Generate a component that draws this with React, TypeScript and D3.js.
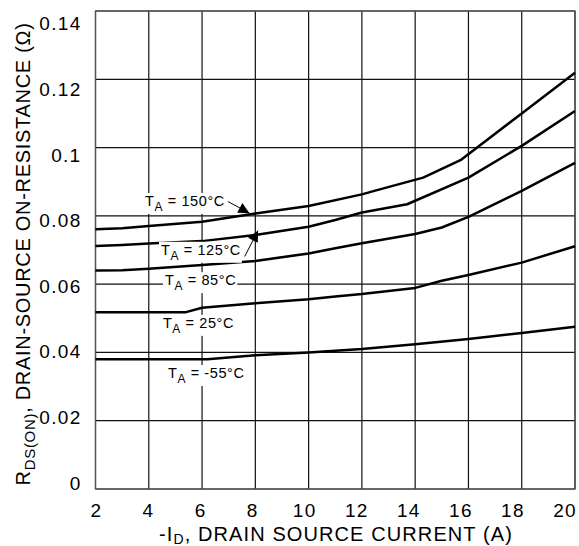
import { useEffect, useRef } from "react";
import * as d3 from "d3";

// -ID (A) vs RDS(ON) (ohm), one array per ambient temperature
const curve150 = [[2, 0.0761], [3, 0.0764], [4, 0.077], [6, 0.0783], [8, 0.0807], [10, 0.0829], [12, 0.0863], [12.5, 0.0874], [14.3, 0.0912], [15.7, 0.0963], [18, 0.110], [20, 0.1219]];
const curve125 = [[2, 0.0712], [3, 0.0715], [4, 0.0719], [6, 0.0726], [8, 0.0744], [10, 0.0768], [11, 0.0788], [12, 0.081], [13.7, 0.0834], [16, 0.0912], [18, 0.1005], [20, 0.1107]];
const curve85 = [[2, 0.064], [3, 0.0641], [4, 0.0645], [6, 0.0656], [8, 0.0668], [10, 0.069], [11, 0.0705], [12, 0.072], [14, 0.0747], [15, 0.0766], [16, 0.0797], [18, 0.0873], [20, 0.0955]];
const curve25 = [[2, 0.0518], [5.4, 0.0518], [6, 0.0531], [8, 0.0544], [10, 0.0556], [11, 0.0564], [12, 0.0571], [14, 0.0589], [15, 0.061], [16, 0.0627], [18, 0.0663], [20, 0.0711]];
const curveM55 = [[2, 0.038], [6.2, 0.038], [8, 0.0392], [10, 0.04], [12, 0.041], [14, 0.0424], [16, 0.0439], [18, 0.0457], [20, 0.0475]];

const temps = ["150°C", "125°C", "85°C", "25°C", "-55°C"];
const xTicks = [2, 4, 6, 8, 10, 12, 14, 16, 18, 20];
const yTicks = [0, 0.02, 0.04, 0.06, 0.08, 0.1, 0.12, 0.14];
const yTickLabels = ["0", "0.02", "0.04", "0.06", "0.08", "0.1", "0.12", "0.14"];

const FONT = "'Liberation Sans', Arial, Helvetica, sans-serif";

export default function App() {
  const svgRef = useRef<SVGSVGElement>(null);

  useEffect(() => {
    const width = 579;
    const height = 546;
    const x = d3.scaleLinear().domain([2, 20]).range([95.5, 575]);
    const y = d3.scaleLinear().domain([0, 0.14]).range([489, 11]);
    // tick labels in the original sit on a slightly tighter spacing than the grid
    const xLab = d3.scaleLinear().domain([2, 20]).range([96.5, 565]);
    const yLab = d3.scaleLinear().domain([0, 0.14]).range([483, 23.7]);

    const svg = d3.select(svgRef.current);
    svg.selectAll("*").remove();
    svg.attr("width", width).attr("height", height);
    svg.append("rect").attr("width", width).attr("height", height).attr("fill", "#fff");

    // grid
    const grid = svg.append("g").attr("stroke", "#111").attr("stroke-width", 1.2);
    grid.selectAll("line.v").data(xTicks).join("line")
      .attr("x1", (d) => x(d)).attr("x2", (d) => x(d))
      .attr("y1", y(0)).attr("y2", y(0.14));
    grid.selectAll("line.h").data(yTicks).join("line")
      .attr("x1", x(2)).attr("x2", x(20))
      .attr("y1", (d) => y(d)).attr("y2", (d) => y(d));
    svg.append("rect")
      .attr("x", x(2)).attr("y", y(0.14))
      .attr("width", x(20) - x(2)).attr("height", y(0) - y(0.14))
      .attr("fill", "none").attr("stroke", "#555").attr("stroke-width", 1.3);

    // curves
    const line = d3.line<number[]>().x((d) => x(d[0])).y((d) => y(d[1]));
    [curve150, curve125, curve85, curve25, curveM55].forEach((c) => {
      svg.append("path").datum(c)
        .attr("d", line)
        .attr("fill", "none").attr("stroke", "#000")
        .attr("stroke-width", 2.5).attr("stroke-linejoin", "round");
    });

    // curve labels (data coords for the text baseline start)
    const labelPos = [[3.86, 0.0829], [4.46, 0.0686], [4.61, 0.0597], [4.53, 0.0472], [4.72, 0.0325]];
    temps.forEach((t, i) => {
      const g = svg.append("g");
      const bg = g.append("rect").attr("fill", "#fff");
      const txt = g.append("text")
        .attr("x", x(labelPos[i][0])).attr("y", y(labelPos[i][1]))
        .attr("font-family", FONT).attr("font-size", 14.5)
        .attr("letter-spacing", 0.6).attr("fill", "#000");
      txt.append("tspan").text("T");
      txt.append("tspan").attr("font-size", 12).attr("dy", 5).text("A");
      txt.append("tspan").attr("dy", -5).text(" = " + t);
      const b = (txt.node() as SVGTextElement).getBBox();
      bg.attr("x", b.x - 2).attr("y", b.y).attr("width", b.width + 3).attr("height", b.height);
    });

    // arrows
    const defs = svg.append("defs");
    defs.append("marker")
      .attr("id", "arr").attr("viewBox", "0 0 10 10")
      .attr("refX", 10).attr("refY", 5)
      .attr("markerWidth", 13).attr("markerHeight", 11)
      .attr("markerUnits", "userSpaceOnUse").attr("orient", "auto")
      .append("path").attr("d", "M0,0 L10,5 L0,10 Z").attr("fill", "#000");
    const arrows = [
      [[6.97, 0.0842], [7.78, 0.0808]],
      [[7.6, 0.0681], [8.1, 0.0757]],
    ];
    arrows.forEach(([a, b]) => {
      svg.append("line")
        .attr("x1", x(a[0])).attr("y1", y(a[1]))
        .attr("x2", x(b[0])).attr("y2", y(b[1]))
        .attr("stroke", "#000").attr("stroke-width", 1)
        .attr("marker-end", "url(#arr)");
    });

    // tick labels
    svg.append("g").selectAll("text").data(xTicks).join("text")
      .attr("x", (d) => xLab(d)).attr("y", 516.5)
      .attr("text-anchor", "middle")
      .attr("font-family", FONT).attr("font-size", 19).attr("letter-spacing", 1.3)
      .text((d) => String(d));
    svg.append("g").selectAll("text").data(yTicks).join("text")
      .attr("x", 81.5).attr("y", (d) => yLab(d))
      .attr("dy", "0.35em")
      .attr("text-anchor", "end")
      .attr("font-family", FONT).attr("font-size", 19).attr("letter-spacing", 1.3)
      .text((d, i) => yTickLabels[i]);

    // axis titles
    const xt = svg.append("text")
      .attr("x", 336).attr("y", 540.5).attr("text-anchor", "middle")
      .attr("font-family", FONT).attr("font-size", 20).attr("letter-spacing", 1.1);
    xt.append("tspan").text("-I");
    xt.append("tspan").attr("font-size", 14).attr("dy", 3.5).text("D");
    xt.append("tspan").attr("dy", -3.5).text(", DRAIN SOURCE CURRENT (A)");

    const yt = svg.append("text")
      .attr("transform", "translate(30,254) rotate(-90)")
      .attr("text-anchor", "middle")
      .attr("font-family", FONT).attr("font-size", 20).attr("letter-spacing", 0.7);
    yt.append("tspan").text("R");
    yt.append("tspan").attr("font-size", 15).attr("dy", 5).text("DS(ON)");
    yt.append("tspan").attr("dy", -5).text(", DRAIN-SOURCE ON-RESISTANCE (Ω)");
  }, []);

  return (
    <div style={{ position: "absolute", left: 0, top: 0 }}>
      <svg ref={svgRef} style={{ display: "block" }}></svg>
    </div>
  );
}
